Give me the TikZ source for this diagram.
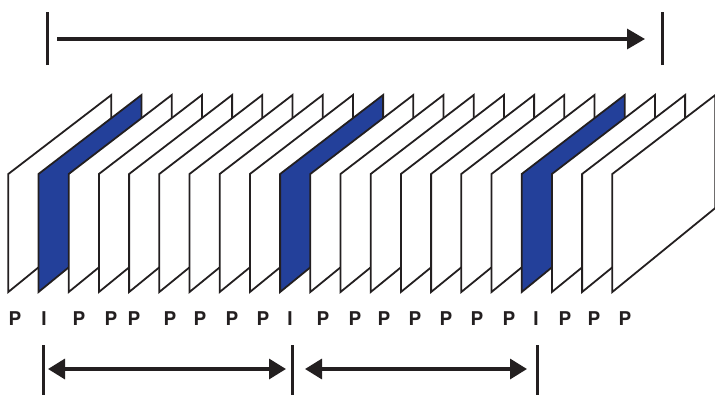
\documentclass[tikz,border=0pt]{standalone}
\usepackage{fontspec}
\setsansfont{TeX Gyre Heros}
\usepackage{tikz}
\usepackage{xcolor}
\usetikzlibrary{arrows.meta,positioning,calc}
\definecolor{ink}{HTML}{231F20}
\definecolor{iblue}{HTML}{23409A}
\tikzset{
  frameP/.style={draw=ink,fill=white,line width=1.8pt,line join=miter},
  frameI/.style={draw=ink,fill=iblue,line width=1.8pt,line join=miter},
  lbl/.style={font=\sffamily\bfseries\fontsize{19}{22}\selectfont,
              text=ink,inner sep=0pt,anchor=center},
  tick/.style={draw=ink,line width=3pt},
  spanarr/.style={-{Triangle[length=18pt,width=20pt]},line width=3.3pt,
                  draw=ink},
  gaparr/.style={{Triangle[length=17pt,width=20pt]}-{Triangle[length=17pt,width=20pt]},
                 line width=3.3pt,draw=ink}
}

\begin{document}
\begin{tikzpicture}[x=1pt,y=-1pt]
    \path[use as bounding box] (0,0) rectangle (715,394);

    % frames and their types
    \foreach \t/\lx [count=\i from 0] in
      {P/15,I/44,P/79,P/111,P/134,P/170,P/200,P/232,P/263,I/290,P/323,
       P/355,P/384,P/415,P/446,P/477,P/509,I/536,P/565,P/594,P/625}{
      \pgfmathsetmacro\fx{8.3+30.2*\i}
      \draw[frameP,frame\t] (\fx,292) -- (\fx,174) -- ({\fx+103},95)
                     -- ({\fx+103},208) -- cycle;
      \node[lbl] (lbl\i) at (\lx,319) {\t};
    }

    % whole sequence
    \coordinate (seqL) at (47,39);
    \coordinate (seqR) at (662,39);
    \draw[tick] ([yshift=-26pt]seqL) -- ([yshift=27pt]seqL);
    \draw[tick] ([yshift=-26pt]seqR) -- ([yshift=27pt]seqR);
    \draw[spanarr] ([xshift=10pt]seqL) -- ([xshift=-17pt]seqR);

    % group of pictures
    \coordinate (gopA) at (43,369);
    \coordinate (gopB) at (292,369);
    \coordinate (gopC) at (537,369);
    \foreach \g in {gopA,gopB,gopC}
      \draw[tick] ([yshift=-26pt]\g) -- ([yshift=24pt]\g);
    \draw[gaparr] ([xshift=5pt]gopA) -- ([xshift=-6pt]gopB);
    \draw[gaparr] ([xshift=13pt]gopB) -- ([xshift=-10pt]gopC);
  \end{tikzpicture}
\end{document}
